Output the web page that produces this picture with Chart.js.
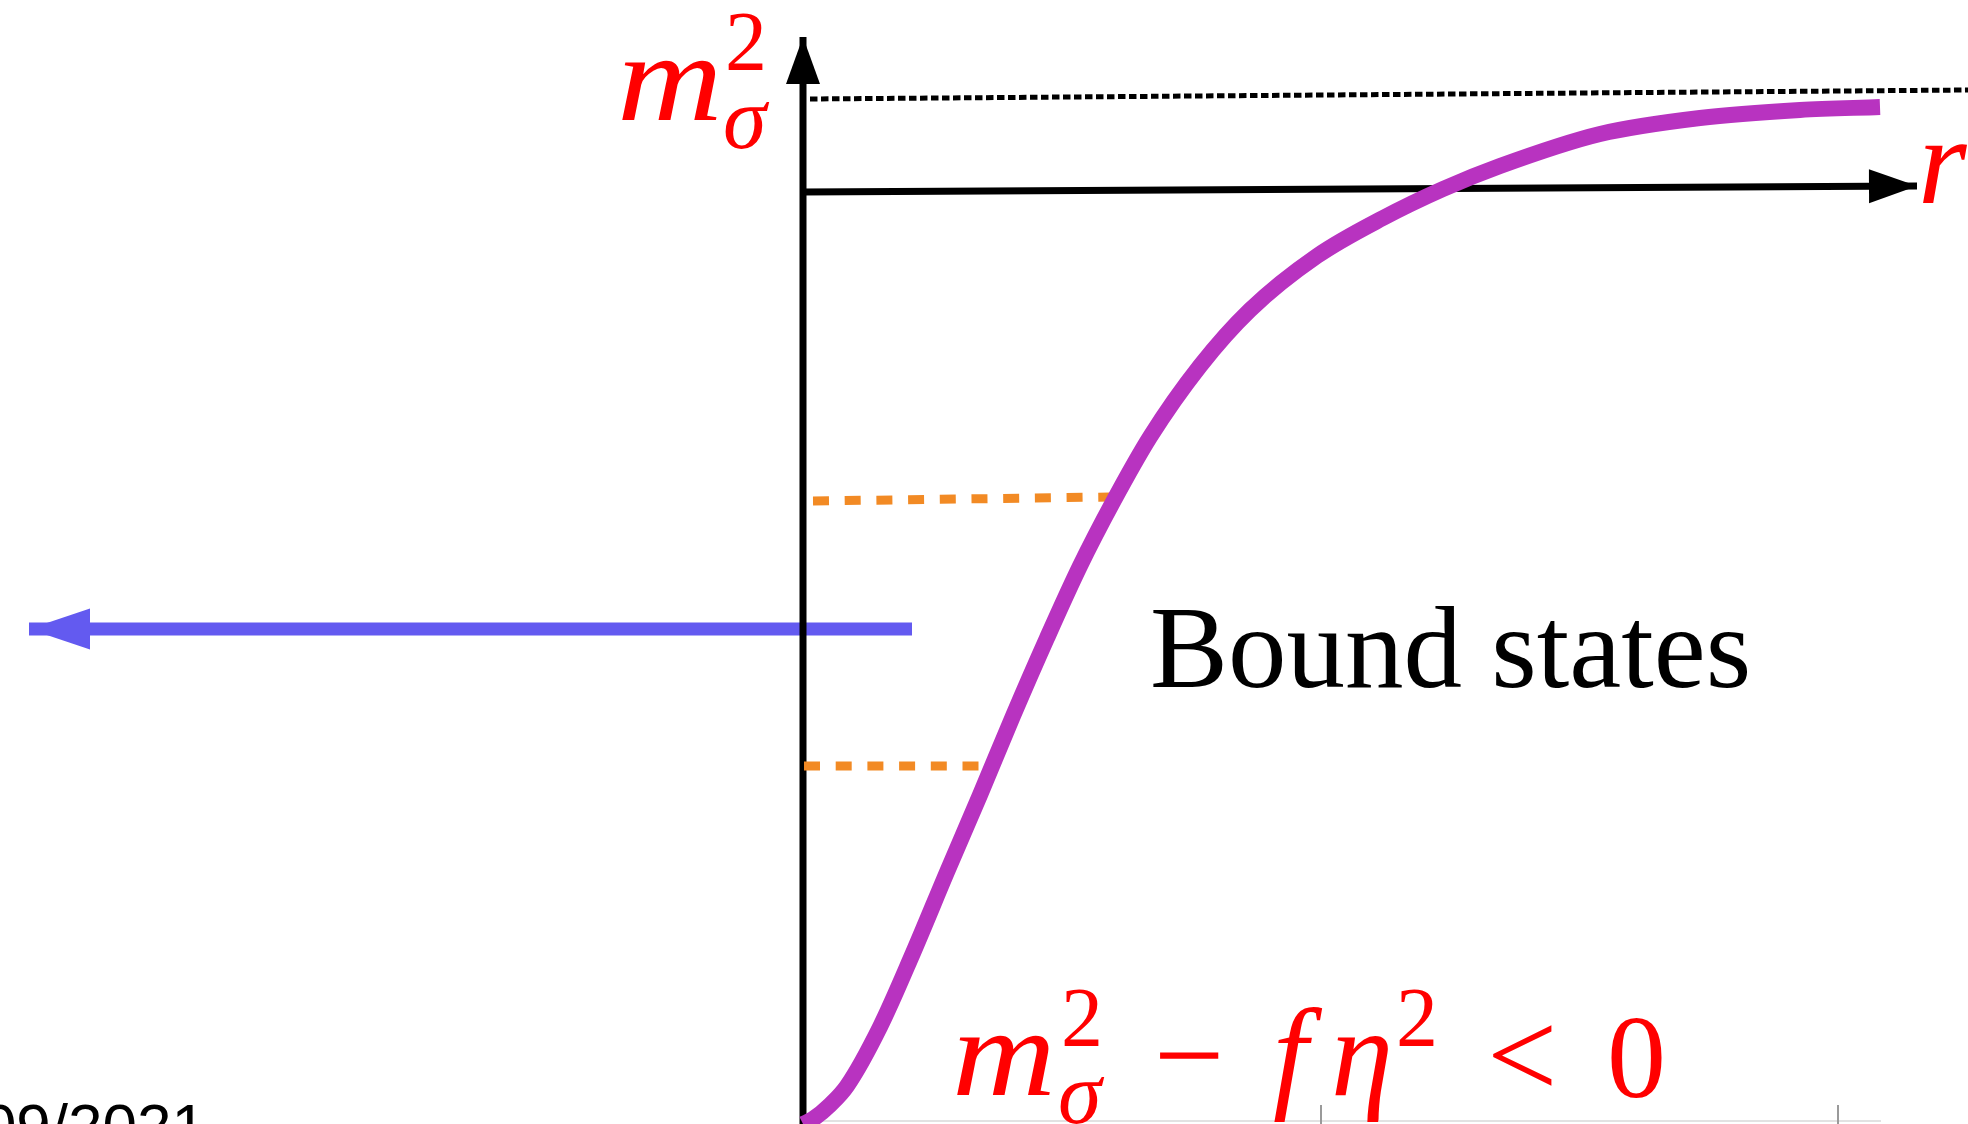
<!DOCTYPE html>
<html>
<head>
<meta charset="utf-8">
<title>Bound states</title>
<script src="https://cdn.jsdelivr.net/npm/chart.js@4.4.1/dist/chart.umd.min.js"></script>
<style>
  html, body { margin: 0; padding: 0; background: #fff; overflow: hidden; }
  #wrap { position: relative; width: 1968px; height: 1124px; }
</style>
</head>
<body>
<div id="wrap"><canvas id="potentialChart"></canvas></div>
<script>
// m_sigma^2 profile along r (r = 0 is the vertical axis, m^2 = 0 the r axis)
const curveR = [0.00, 0.10, 0.27, 0.44, 0.77, 1.10, 1.44, 1.77, 2.10, 2.44, 2.77, 3.10, 3.47,
  3.97, 4.47, 5.14, 5.80, 6.40, 6.97, 7.97, 8.97, 9.97, 10.77];
const curveM2 = [-9.32, -9.27, -9.13, -8.94, -8.35, -7.61, -6.80, -6.03, -5.24, -4.46, -3.74, -3.10, -2.45,
  -1.74, -1.18, -0.64, -0.26, 0.03, 0.26, 0.58, 0.74, 0.82, 0.85];

// bound state levels (dashed, orange)
const levelStartR = [0.10, 0.01];
const levelEndR = [3.07, 1.92];
const levelStartM2 = [-3.09, -5.74];
const levelEndM2 = [-3.05, -5.74];

// asymptote m_sigma^2 at large r
const asymR = [0.07, 11.65];
const asymM2 = [0.93, 1.02];

// axes
const rAxisR = [0.00, 11.14];
const rAxisM2 = [0.00, 0.06];
const mAxisR = [0.00, 0.00];
const mAxisM2 = [-9.5, 1.55];

// leftward arrow
const escapeR = [1.09, -7.74];
const escapeM2 = [-4.37, -4.37];

// faint ruler along the bottom edge
const rulerR = [0.00, 10.78];
const rulerM2 = [-9.29, -9.29];
const rulerTickR = [5.18, 10.35];
const rulerTickM2 = [-9.13, -9.32];

const pts = (xs, ys) => xs.map((x, i) => ({ x: x, y: ys[i] }));

// arrowheads at the last point of any dataset carrying an `arrow` option
const arrowPlugin = {
  id: "arrowHeads",
  afterDatasetsDraw(chart) {
    const ctx = chart.ctx;
    chart.data.datasets.forEach((ds, i) => {
      if (!ds.arrow) return;
      const meta = chart.getDatasetMeta(i);
      const n = meta.data.length;
      const a = meta.data[n - 2], b = meta.data[n - 1];
      const ang = Math.atan2(b.y - a.y, b.x - a.x);
      const { len, width, color } = ds.arrow;
      ctx.save();
      ctx.translate(b.x, b.y);
      ctx.rotate(ang);
      ctx.fillStyle = color;
      ctx.beginPath();
      ctx.moveTo(0, 0);
      ctx.lineTo(-len, -width / 2);
      ctx.lineTo(-len, width / 2);
      ctx.closePath();
      ctx.fill();
      ctx.restore();
    });
  }
};

// math labels and captions
const textPlugin = {
  id: "texts",
  afterDraw(chart) {
    const ctx = chart.ctx;
    const xs = chart.scales.x, ys = chart.scales.y;
    const put = (str, font, color, r, m2, align, stretch) => {
      ctx.save();
      ctx.font = font;
      ctx.fillStyle = color;
      ctx.textAlign = align || "left";
      ctx.textBaseline = "alphabetic";
      ctx.translate(xs.getPixelForValue(r), ys.getPixelForValue(m2));
      ctx.scale(stretch || 1, 1);
      ctx.fillText(str, 0, 0);
      ctx.restore();
    };
    const serif = '"Liberation Serif", "Times New Roman", serif';
    const red = "#ff0000";

    // vertical axis label
    put("m", "italic 125px " + serif, red, -1.86, 0.72, "left", 1.17);
    put("2", "84px " + serif, red, -0.78, 1.22);
    put("\u03c3", "italic 88px " + serif, red, -0.80, 0.44);

    // horizontal axis label
    put("r", "italic 125px " + serif, red, 11.15, -0.11);

    // condition below the curve
    put("m", "italic 125px " + serif, red, 1.49, -9.03, "left", 1.15);
    put("2", "84px " + serif, red, 2.58, -8.54);
    put("\u03c3", "italic 88px " + serif, red, 2.55, -9.31);
    put("\u2212", "125px " + serif, red, 3.51, -9.05);
    put("f", "italic 125px " + serif, red, 4.70, -9.03);
    put("\u03b7", "italic 125px " + serif, red, 5.28, -9.03);
    put("2", "84px " + serif, red, 5.93, -8.54);
    put("<", "125px " + serif, red, 6.84, -9.05);
    put("0", "118px " + serif, red, 8.04, -9.05);

    put("Bound states", "117px " + serif, "#000", 3.47, -4.95);

    put("09/2021", '62px "Liberation Sans", Arial, sans-serif', "#000", -5.97, -9.55, "right");
  }
};

const lineDs = (data, color, width, extra) => Object.assign({
  data: data,
  showLine: true,
  borderColor: color,
  borderWidth: width,
  pointRadius: 0,
  fill: false,
  tension: 0,
  borderCapStyle: "butt"
}, extra || {});

const blue = "rgb(99,90,240)";
const orange = "#f28a24";

const datasets = [
  lineDs(pts(curveR, curveM2), "#b833c0", 16, { cubicInterpolationMode: "monotone" }),
  lineDs(pts([levelStartR[0], levelEndR[0]], [levelStartM2[0], levelEndM2[0]]), orange, 9,
    { borderDash: [16, 15.7] }),
  lineDs(pts([levelStartR[1], levelEndR[1]], [levelStartM2[1], levelEndM2[1]]), orange, 9,
    { borderDash: [16, 15.7] }),
  lineDs(pts(asymR, asymM2), "#000", 5, { borderDash: [7.5, 3.5] }),
  lineDs(pts(rAxisR, rAxisM2), "#000", 7,
    { arrow: { len: 48, width: 34, color: "#000" } }),
  lineDs(pts(mAxisR, mAxisM2), "#000", 7,
    { arrow: { len: 47, width: 34, color: "#000" } }),
  lineDs(pts(escapeR, escapeM2), blue, 13,
    { arrow: { len: 61, width: 41, color: blue } }),
  lineDs(pts([rulerTickR[0], rulerTickR[0]], rulerTickM2), "#9a9a9a", 2),
  lineDs(pts([rulerTickR[1], rulerTickR[1]], rulerTickM2), "#9a9a9a", 2),
  lineDs(pts(rulerR, rulerM2), "#e2e2e2", 2)
];

new Chart(document.getElementById("potentialChart"), {
  type: "scatter",
  data: { datasets: datasets },
  options: {
    responsive: true,
    maintainAspectRatio: false,
    animation: false,
    layout: { padding: 0 },
    plugins: { legend: { display: false }, tooltip: { enabled: false } },
    scales: {
      x: { type: "linear", min: -8.03, max: 11.65, display: false },
      y: { type: "linear", min: -9.32, max: 1.92, display: false }
    }
  },
  plugins: [arrowPlugin, textPlugin]
});
</script>
</body>
</html>
